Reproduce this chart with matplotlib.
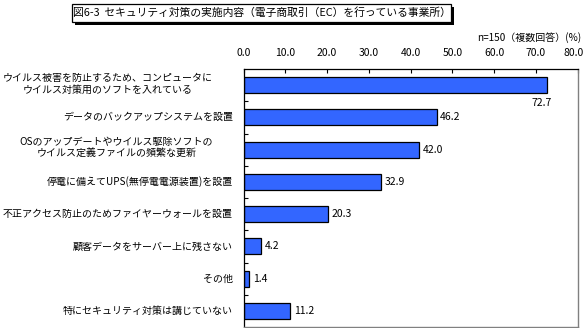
import matplotlib
matplotlib.use("Agg")
import matplotlib.pyplot as plt
from matplotlib.patches import Rectangle
from matplotlib.transforms import blended_transform_factory, ScaledTranslation

plt.rcParams['font.family'] = ['Noto Sans CJK JP', 'DejaVu Sans']

title = "図6-3  セキュリティ対策の実施内容（電子商取引（EC）を行っている事業所）"
note = "n=150（複数回答）(%)"
categories = [
    "ウイルス被害を防止するため、コンピュータに\nウイルス対策用のソフトを入れている",
    "データのバックアップシステムを設置",
    "OSのアップデートやウイルス駆除ソフトの\nウイルス定義ファイルの頻繁な更新",
    "停電に備えてUPS(無停電電源装置)を設置",
    "不正アクセス防止のためファイヤーウォールを設置",
    "顧客データをサーバー上に残さない",
    "その他",
    "特にセキュリティ対策は講じていない",
]
values = [72.7, 46.2, 42.0, 32.9, 20.3, 4.2, 1.4, 11.2]
xticks = [0, 10, 20, 30, 40, 50, 60, 70, 80]
xtick_labels = ["0.0", "10.0", "20.0", "30.0", "40.0", "50.0", "60.0", "70.0", "80.0"]

W, H = 586, 328
fig = plt.figure(figsize=(W / 100, H / 100), dpi=100)
ax = fig.add_axes([243.5 / W, 1 - 327 / H, (577.7 - 243.5) / W, (327 - 69) / H])

ypos = list(range(len(categories)))
ax.barh(ypos, values, height=0.5, color="#3366FF", edgecolor="black", linewidth=0.9)
ax.set_xlim(0, 80)
ax.set_ylim(len(categories) - 0.5, -0.5)

ax.xaxis.tick_top()
ax.set_xticks(xticks)
ax.set_xticklabels(xtick_labels, fontsize=7.5)
ax.tick_params(axis='x', direction='in', length=3, pad=8, width=0.8)
last = ax.get_xticklabels()[-1]
last.set_transform(last.get_transform() + ScaledTranslation(-4 / 100, 0, fig.dpi_scale_trans))
ax.set_yticks([])
ax.set_yticks([k - 0.5 for k in range(1, len(categories))], minor=True)
ax.tick_params(axis='y', which='minor', direction='in', length=3, width=0.8)
ax.tick_params(axis='y', which='major', length=0)

for s in ['left', 'top']:
    ax.spines[s].set_color('black')
    ax.spines[s].set_linewidth(0.9)
for s in ['right', 'bottom']:
    ax.spines[s].set_color('#808080')
    ax.spines[s].set_linewidth(1.0)

# category labels
tr = blended_transform_factory(fig.transFigure, ax.transData)
for i, lab in enumerate(categories):
    if "\n" in lab:
        ax.text(213 / W, i - 0.05, lab, transform=tr, ha='right', va='center',
                multialignment='center', fontsize=7.2, linespacing=1.25)
    else:
        ax.text(233 / W, i, lab, transform=tr, ha='right', va='center', fontsize=7.2)

# value labels
for i, v in enumerate(values):
    if v > 70:
        ax.annotate(f"{v:.1f}", (v, i + 0.25), xytext=(-4, -3.5), textcoords='offset points',
                    ha='center', va='top', fontsize=7.5)
    else:
        ax.annotate(f"{v:.1f}", (v, i), xytext=(2.5, 0), textcoords='offset points',
                    ha='left', va='center', fontsize=7.5)

# title box with shadow
bx0, by0, bx1, by1 = 72, 4, 451, 22
fig.patches.append(Rectangle(((bx0 + 3) / W, 1 - (by1 + 3) / H), (bx1 - bx0) / W, (by1 - by0) / H,
                             transform=fig.transFigure, facecolor='black', edgecolor='black', lw=0))
fig.patches.append(Rectangle((bx0 / W, 1 - by1 / H), (bx1 - bx0) / W, (by1 - by0) / H,
                             transform=fig.transFigure, facecolor='white', edgecolor='black', lw=0.9))
fig.text((bx0 + bx1) / 2 / W, 1 - (by0 + by1) / 2 / H, title, ha='center', va='center', fontsize=7.75)

fig.text(581 / W, 1 - 37.5 / H, note, ha='right', va='center', fontsize=7.2)

fig.savefig("out.png", dpi=100, facecolor='white')
